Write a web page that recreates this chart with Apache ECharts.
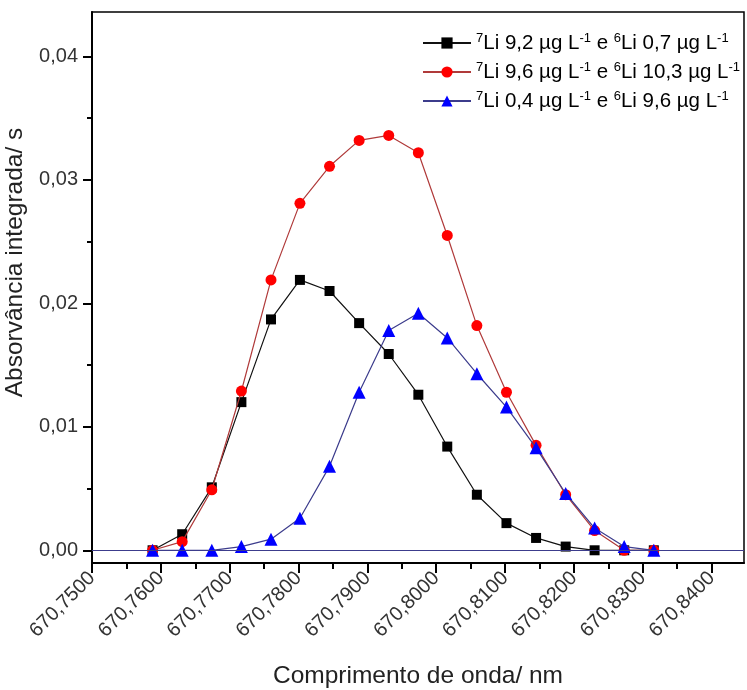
<!DOCTYPE html>
<html><head><meta charset="utf-8">
<script src="https://cdn.jsdelivr.net/npm/echarts@6/dist/echarts.min.js"></script>
<style>html,body{margin:0;padding:0;background:#fff}#c{width:747px;height:690px}</style>
</head><body><div id="c"></div>
<script>
// Wavelength (nm)
const wavelengths = [670.7588, 670.7631, 670.7674, 670.7717, 670.7760, 670.7802, 670.7845, 670.7888, 670.7931,
  670.7974, 670.8016, 670.8059, 670.8102, 670.8145, 670.8188, 670.8230, 670.8273, 670.8316];
// Integrated absorbance (s)
const li7_92_li6_07 = [0.0000, 0.0013, 0.0051, 0.0120, 0.0187, 0.0219, 0.0210, 0.0184, 0.0159,
  0.0126, 0.0084, 0.0045, 0.0022, 0.0010, 0.0003, 0.0000, 0.0000, 0.0000];
const li7_96_li6_103 = [0.0000, 0.0007, 0.0049, 0.0129, 0.0219, 0.0281, 0.0311, 0.0332, 0.0336,
  0.0322, 0.0255, 0.0182, 0.0128, 0.0085, 0.0045, 0.0016, 0.0000, 0.0000];
const li7_04_li6_96 = [0.0000, 0.0000, 0.0000, 0.0003, 0.0009, 0.0026, 0.0068, 0.0128, 0.0178,
  0.0192, 0.0172, 0.0143, 0.0116, 0.0083, 0.0046, 0.0018, 0.0003, 0.0000];
const seriesNames = ['7Li 9,2 µg L-1 e 6Li 0,7 µg L-1', '7Li 9,6 µg L-1 e 6Li 10,3 µg L-1', '7Li 0,4 µg L-1 e 6Li 9,6 µg L-1'];
const legendRich = [
  '{s|7}{n|Li 9,2 µg L}{s|-1}{n| e }{s|6}{n|Li 0,7 µg L}{s|-1}',
  '{s|7}{n|Li 9,6 µg L}{s|-1}{n| e }{s|6}{n|Li 10,3 µg L}{s|-1}',
  '{s|7}{n|Li 0,4 µg L}{s|-1}{n| e }{s|6}{n|Li 9,6 µg L}{s|-1}'
];
// Tick values
const xMajorTicks = [670.75, 670.76, 670.77, 670.78, 670.79, 670.80, 670.81, 670.82, 670.83, 670.84];
const xMinorTicks = [670.755, 670.765, 670.775, 670.785, 670.795, 670.805, 670.815, 670.825, 670.835];
const yMajorTicks = [0, 0.01, 0.02, 0.03, 0.04];
const yMinorTicks = [0.005, 0.015, 0.025, 0.035];
const xRange = [670.75, 670.8447];
const yRange = [-0.00103, 0.0436];

const FONT = 'Liberation Sans, Arial, sans-serif';
const pairs = ys => wavelengths.map((x, i) => [x, ys[i]]);

const chart = echarts.init(document.getElementById('c'), null, {renderer: 'canvas'});
const axisBase = {
  type: 'value', splitLine: {show: false}
};
chart.setOption({
  animation: false,
  backgroundColor: '#fff',
  grid: {left: 92, right: 3, top: 12, bottom: 127, containLabel: false, outerBoundsMode: 'none',
    show: true, borderColor: '#000', borderWidth: 1.5, backgroundColor: 'transparent'},
  xAxis: [
    Object.assign({}, axisBase, {
      min: xRange[0], max: xRange[1], position: 'bottom',
      name: 'Comprimento de onda/ nm', nameLocation: 'middle', nameGap: 101,
      nameTextStyle: {fontFamily: FONT, fontSize: 24.5, color: '#222'},
      axisLine: {onZero: false, lineStyle: {color: '#000', width: 2}},
      axisTick: {customValues: xMajorTicks, length: 10, lineStyle: {color: '#000', width: 2}},
      axisLabel: {customValues: xMajorTicks, rotate: 45, margin: 12, fontFamily: FONT, fontSize: 20, color: '#333',
        formatter: v => v.toFixed(4).replace('.', ',')}
    }),
    Object.assign({}, axisBase, {
      min: xRange[0], max: xRange[1], position: 'bottom',
      axisLine: {show: false, onZero: false},
      axisTick: {customValues: xMinorTicks, length: 6, lineStyle: {color: '#000', width: 2}},
      axisLabel: {show: false}
    })
  ],
  yAxis: [
    Object.assign({}, axisBase, {
      min: yRange[0], max: yRange[1], position: 'left',
      name: 'Absorvância integrada/ s', nameLocation: 'middle', nameGap: 62, nameRotate: 90,
      nameTextStyle: {fontFamily: FONT, fontSize: 24.5, color: '#222', padding: [0, 0, 0, 50]},
      axisLine: {onZero: false, lineStyle: {color: '#000', width: 2}},
      axisTick: {customValues: yMajorTicks, length: 9, lineStyle: {color: '#000', width: 2}},
      axisLabel: {customValues: yMajorTicks, margin: 14, fontFamily: FONT, fontSize: 20, color: '#333',
        formatter: v => v.toFixed(2).replace('.', ',')}
    }),
    Object.assign({}, axisBase, {
      min: yRange[0], max: yRange[1], position: 'left',
      axisLine: {show: false, onZero: false},
      axisTick: {customValues: yMinorTicks, length: 5, lineStyle: {color: '#000', width: 2}},
      axisLabel: {show: false}
    })
  ],
  legend: {
    orient: 'vertical', left: 417, top: 27, itemWidth: 48, itemHeight: 14, itemGap: 7.5,
    data: seriesNames,
    formatter: name => legendRich[seriesNames.indexOf(name)],
    textStyle: {
      fontFamily: FONT, color: '#000',
      rich: {
        n: {fontFamily: FONT, fontSize: 20.5, lineHeight: 22, color: '#000'},
        s: {fontFamily: FONT, fontSize: 13, lineHeight: 13, verticalAlign: 'top', color: '#000'}
      }
    }
  },
  series: [
    {
      name: seriesNames[0], type: 'line', data: pairs(li7_92_li6_07),
      symbol: 'rect', symbolSize: 10, itemStyle: {color: '#000'},
      lineStyle: {color: '#111', width: 1.2}, z: 2
    },
    {
      name: seriesNames[1], type: 'line', data: pairs(li7_96_li6_103),
      symbol: 'circle', symbolSize: 11, itemStyle: {color: '#ff0000'},
      lineStyle: {color: '#b03a3a', width: 1.2}, z: 3
    },
    {
      name: seriesNames[2], type: 'line', data: pairs(li7_04_li6_96),
      symbol: 'triangle', symbolSize: 13, itemStyle: {color: '#0000ff'},
      lineStyle: {color: '#3c3c8c', width: 1.2}, z: 4,
      markLine: {silent: true, symbol: 'none', label: {show: false},
        lineStyle: {color: '#3c3c8c', width: 1, type: 'solid'},
        data: [{yAxis: 0}]}
    }
  ]
});
</script>
</body></html>
